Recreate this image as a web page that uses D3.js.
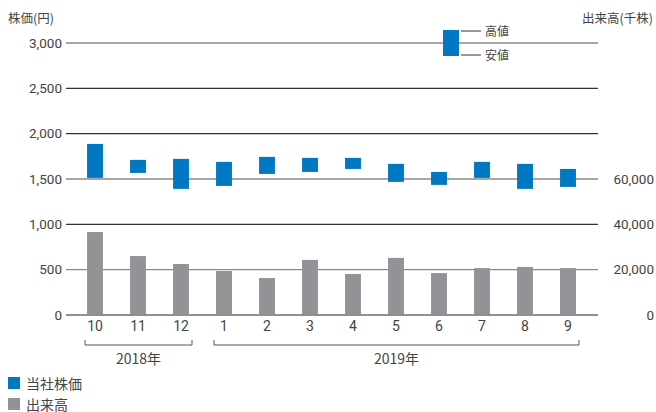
<!DOCTYPE html>
<html><head><meta charset="utf-8">
<script src="https://cdn.jsdelivr.net/npm/d3@7"></script>
<style>
body{margin:0;background:#fff;}
text{font-family:"Noto Sans CJK JP","Noto Sans",sans-serif;fill:#444;}
</style></head>
<body><svg id="c" width="656" height="412"></svg>
<script>
const months = ["10","11","12","1","2","3","4","5","6","7","8","9"];
const priceHigh = [1887,1711,1722,1689,1744,1733,1733,1667,1578,1689,1667,1611];
const priceLow  = [1512,1567,1391,1424,1556,1578,1611,1468,1435,1512,1391,1413];
const volume    = [36600,26000,22500,19400,16300,24300,18100,25200,18500,20700,21200,20700];
const leftTicks = [0,500,1000,1500,2000,2500,3000];
const leftTickLabels = ["0","500","1,000","1,500","2,000","2,500","3,000"];
const rightTicks = [0,20000,40000,60000];
const rightTickLabels = ["0","20,000","40,000","60,000"];
const gridDark = [2500,2000,1000];
const years = [{label:"2018年",from:"10",to:"12"},{label:"2019年",from:"1",to:"9"}];

const svg = d3.select("#c");
const x = d3.scaleBand().domain(months).range([73.5,589.5]).paddingInner(0.63).paddingOuter(0.315);
const xc = m => x(m) + x.bandwidth()/2;
const yL = d3.scaleLinear().domain([0,3000]).range([315,43]);
const yR = d3.scaleLinear().domain([0,120000]).range([315,43]);

// gridlines
svg.append("g").selectAll("line").data(leftTicks).join("line")
  .attr("x1",66).attr("x2",598)
  .attr("y1",d=>yL(d)).attr("y2",d=>yL(d))
  .attr("stroke",d=>gridDark.includes(d)?"#333":"#8a8a8a")
  .attr("stroke-width",1.3);

// left axis labels
const la = svg.append("g").attr("transform","translate(62,0)")
  .call(d3.axisLeft(yL).tickValues(leftTicks).tickSize(0).tickPadding(0)
    .tickFormat((d,i)=>leftTickLabels[i]));
la.select(".domain").remove();
la.selectAll("text").attr("font-size",13.5).style("font-family","Roboto,'Noto Sans',sans-serif").attr("fill","#444");

// right axis labels
const ra = svg.append("g").attr("transform","translate(654,0)")
  .call(d3.axisLeft(yR).tickValues(rightTicks).tickSize(0).tickPadding(0)
    .tickFormat((d,i)=>rightTickLabels[i]));
ra.select(".domain").remove();
ra.selectAll("text").attr("font-size",13.5).style("font-family","Roboto,'Noto Sans',sans-serif").attr("fill","#444");

// axis titles
svg.append("text").attr("x",8).attr("y",23).attr("font-size",12.5).text("株価(円)");
svg.append("text").attr("x",653).attr("y",23).attr("font-size",12.5).attr("text-anchor","end").text("出来高(千株)");

// volume bars
svg.append("g").selectAll("rect").data(months).join("rect")
  .attr("x",d=>x(d)).attr("width",x.bandwidth())
  .attr("y",(d,i)=>yR(volume[i])).attr("height",(d,i)=>yR(0)-yR(volume[i]))
  .attr("fill","#929396");

// redraw 0 line over bars
svg.append("line").attr("x1",66).attr("x2",598).attr("y1",yL(0)).attr("y2",yL(0))
  .attr("stroke","#8a8a8a").attr("stroke-width",1.3);

// price bars
svg.append("g").selectAll("rect").data(months).join("rect")
  .attr("x",d=>x(d)).attr("width",x.bandwidth())
  .attr("y",(d,i)=>yL(priceHigh[i])).attr("height",(d,i)=>yL(priceLow[i])-yL(priceHigh[i]))
  .attr("fill","#0079c2");

// month labels
const xa = svg.append("g").attr("transform","translate(0,321)")
  .call(d3.axisBottom(x).tickSize(0).tickPadding(0));
xa.select(".domain").remove();
xa.selectAll("text").attr("font-size",14).attr("dy","0.71em").style("font-family","Roboto,'Noto Sans',sans-serif").attr("fill","#444");

// year brackets
years.forEach(yr=>{
  const x1 = xc(yr.from) - 10, x2 = xc(yr.to) + 11;
  svg.append("path").attr("d",`M${x1},340V345H${x2}V340`).attr("fill","none").attr("stroke","#555").attr("stroke-width",1);
  svg.append("text").attr("x",(x1+x2)/2).attr("y",364).attr("text-anchor","middle")
    .attr("font-size",14).text(yr.label);
});

// top legend
const lg = svg.append("g");
lg.append("rect").attr("x",443).attr("y",30).attr("width",16).attr("height",26).attr("fill","#0079c2");
lg.append("line").attr("x1",461).attr("x2",481).attr("y1",31).attr("y2",31).attr("stroke","#333");
lg.append("line").attr("x1",461).attr("x2",481).attr("y1",55).attr("y2",55).attr("stroke","#333");
lg.append("text").attr("x",485).attr("y",35.5).attr("font-size",12).text("高値");
lg.append("text").attr("x",485).attr("y",59.5).attr("font-size",12).text("安値");

// bottom legend
const bl = [{c:"#0079c2",t:"当社株価"},{c:"#929396",t:"出来高"}];
bl.forEach((d,i)=>{
  svg.append("rect").attr("x",8).attr("y",377+i*21).attr("width",12).attr("height",12).attr("fill",d.c);
  svg.append("text").attr("x",26).attr("y",388.5+i*21).attr("font-size",14).text(d.t);
});
</script></body></html>
